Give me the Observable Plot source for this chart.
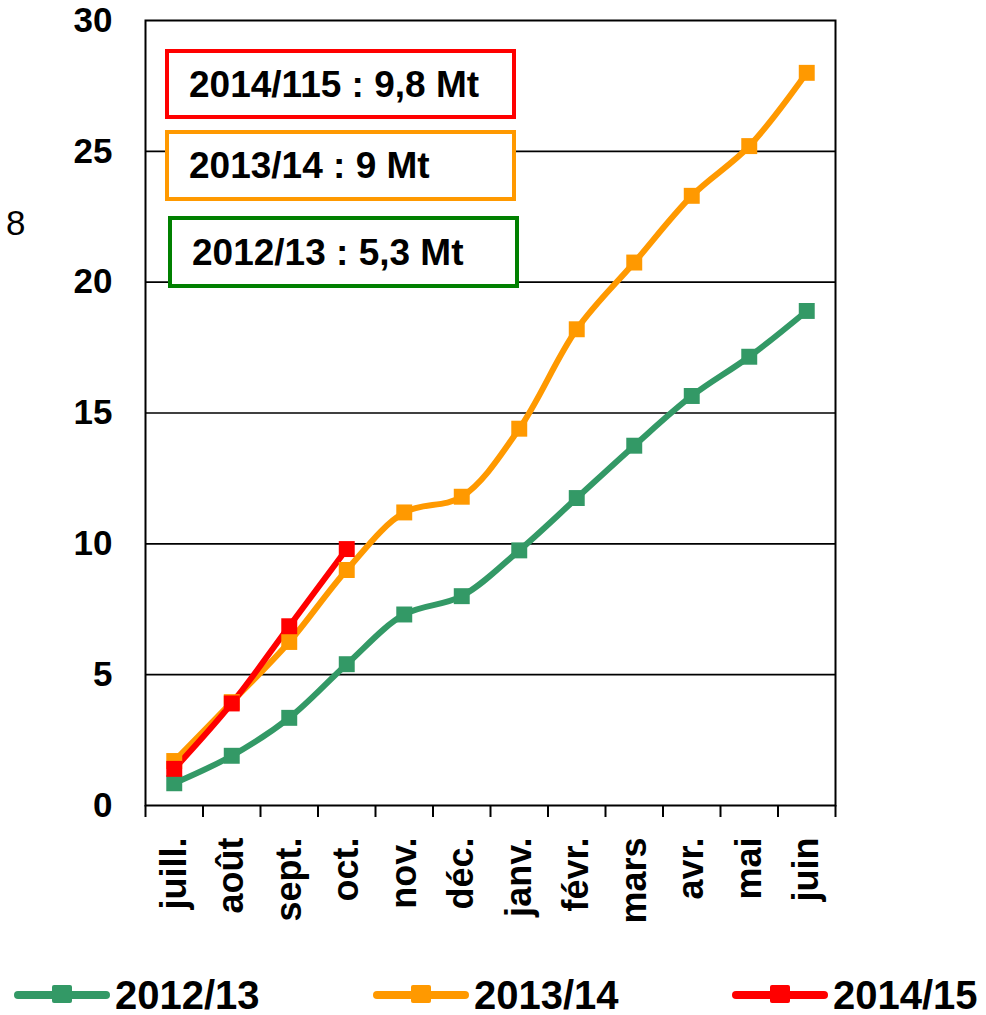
<!DOCTYPE html>
<html>
<head>
<meta charset="utf-8">
<script src="https://cdn.jsdelivr.net/npm/d3@7"></script>
<script src="https://cdn.jsdelivr.net/npm/@observablehq/plot@0.6"></script>
<style>
  html, body { margin: 0; padding: 0; background: #fff; }
  body { width: 986px; height: 1015px; position: relative; overflow: hidden; font-family: "Liberation Sans", Arial, sans-serif; }
  #chart { position: absolute; left: 0; top: 0; }
  .box { position: absolute; box-sizing: border-box; border: 4px solid; font-weight: bold; font-size: 37px; line-height: 1; display: flex; align-items: center; padding-left: 20px; color: #000; background: #fff; }
  .side { position: absolute; left: 6px; top: 203px; font-size: 35px; color: #000; }
  #legend { position: absolute; left: 0; top: 975px; width: 986px; height: 40px; }
  .item { position: absolute; top: 0; height: 40px; display: flex; align-items: center; font-weight: bold; font-size: 40px; color: #000; }
  .sw { position: relative; width: 96px; height: 40px; margin-right: 5px; }
  .sw .ln { position: absolute; left: 0; right: 0; top: 16px; height: 8px; border-radius: 4px; }
  .sw .mk { position: absolute; left: 38px; top: 10px; width: 20px; height: 18px; border-radius: 2px; }
</style>
</head>
<body>
<div id="chart"></div>
<div class="side">8</div>
<div id="legend"></div>
<script>
const months = ["juill.", "août", "sept.", "oct.", "nov.", "déc.", "janv.", "févr.", "mars", "avr.", "mai", "juin"];
const seriesNames = ["2012/13", "2013/14", "2014/15"];
const seriesColors = ["#339966", "#FF9900", "#FF0000"];
const v2012 = [0.85, 1.9, 3.35, 5.4, 7.3, 8.0, 9.75, 11.75, 13.75, 15.65, 17.15, 18.9];
const v2013 = [1.7, 3.95, 6.25, 9.0, 11.2, 11.8, 14.4, 18.2, 20.75, 23.3, 25.2, 28.0];
const v2014 = [1.4, 3.9, 6.85, 9.8];
const yTicks = [0, 5, 10, 15, 20, 25, 30];
const boxes = [
  {label: "2014/115 : 9,8 Mt", color: "#FF0000"},
  {label: "2013/14 : 9 Mt", color: "#FF9900"},
  {label: "2012/13 : 5,3 Mt", color: "#008000"}
];

const rows = [];
[v2012, v2013, v2014].forEach((vals, s) => {
  vals.forEach((v, i) => rows.push({series: seriesNames[s], i, month: months[i], value: v}));
});

const font = "'Liberation Sans', Arial, sans-serif";
const plot = Plot.plot({
  width: 986,
  height: 960,
  marginLeft: 145,
  marginRight: 151,
  marginTop: 20,
  marginBottom: 155,
  style: {fontFamily: font, background: "#fff", overflow: "visible"},
  x: {type: "linear", domain: [-0.5, 11.5]},
  y: {domain: [0, 30]},
  color: {domain: seriesNames, range: seriesColors},
  marks: [
    Plot.ruleY(yTicks.filter(d => d > 0 && d < 30), {stroke: "#000", strokeWidth: 1.6}),
    Plot.axisY({ticks: yTicks, tickSize: 0, tickPadding: 33, fontSize: 35, fontWeight: "bold", fill: "#000", label: null}),
    Plot.axisX({ticks: d3.range(-0.5, 12, 1), tickFormat: () => "", tickSize: 12, stroke: "#000", strokeWidth: 2, label: null}),
    Plot.axisX({ticks: d3.range(0, 12), tickFormat: i => months[i], tickSize: 0, tickPadding: 32, tickRotate: -90, fontSize: 36, fontWeight: "bold", fill: "#000", label: null, style: {letterSpacing: "1px"}}),
    Plot.frame({stroke: "#000", strokeWidth: 2}),
    Plot.line(rows, {x: "i", y: "value", z: "series", stroke: "series", strokeWidth: 6, curve: "catmull-rom", strokeLinejoin: "round"}),
    Plot.dot(rows, {x: "i", y: "value", fill: "series", symbol: "square", r: 9, stroke: null})
  ]
});
document.getElementById("chart").appendChild(plot);

// annotation boxes
const boxPos = [
  {left: 165, top: 49, w: 351, h: 70},
  {left: 165, top: 130, w: 351, h: 71},
  {left: 168, top: 216, w: 351, h: 72}
];
boxes.forEach((b, k) => {
  const d = document.createElement("div");
  d.className = "box";
  d.style.left = boxPos[k].left + "px";
  d.style.top = boxPos[k].top + "px";
  d.style.width = boxPos[k].w + "px";
  d.style.height = boxPos[k].h + "px";
  d.style.borderColor = b.color;
  d.textContent = b.label;
  document.body.appendChild(d);
});

// legend
const legend = document.getElementById("legend");
const legX = [14, 373, 732];
seriesNames.forEach((n, k) => {
  const it = document.createElement("div");
  it.className = "item";
  it.style.left = legX[k] + "px";
  it.innerHTML = `<div class="sw"><div class="ln" style="background:${seriesColors[k]}"></div><div class="mk" style="background:${seriesColors[k]}"></div></div><span>${n}</span>`;
  legend.appendChild(it);
});
</script>
</body>
</html>
